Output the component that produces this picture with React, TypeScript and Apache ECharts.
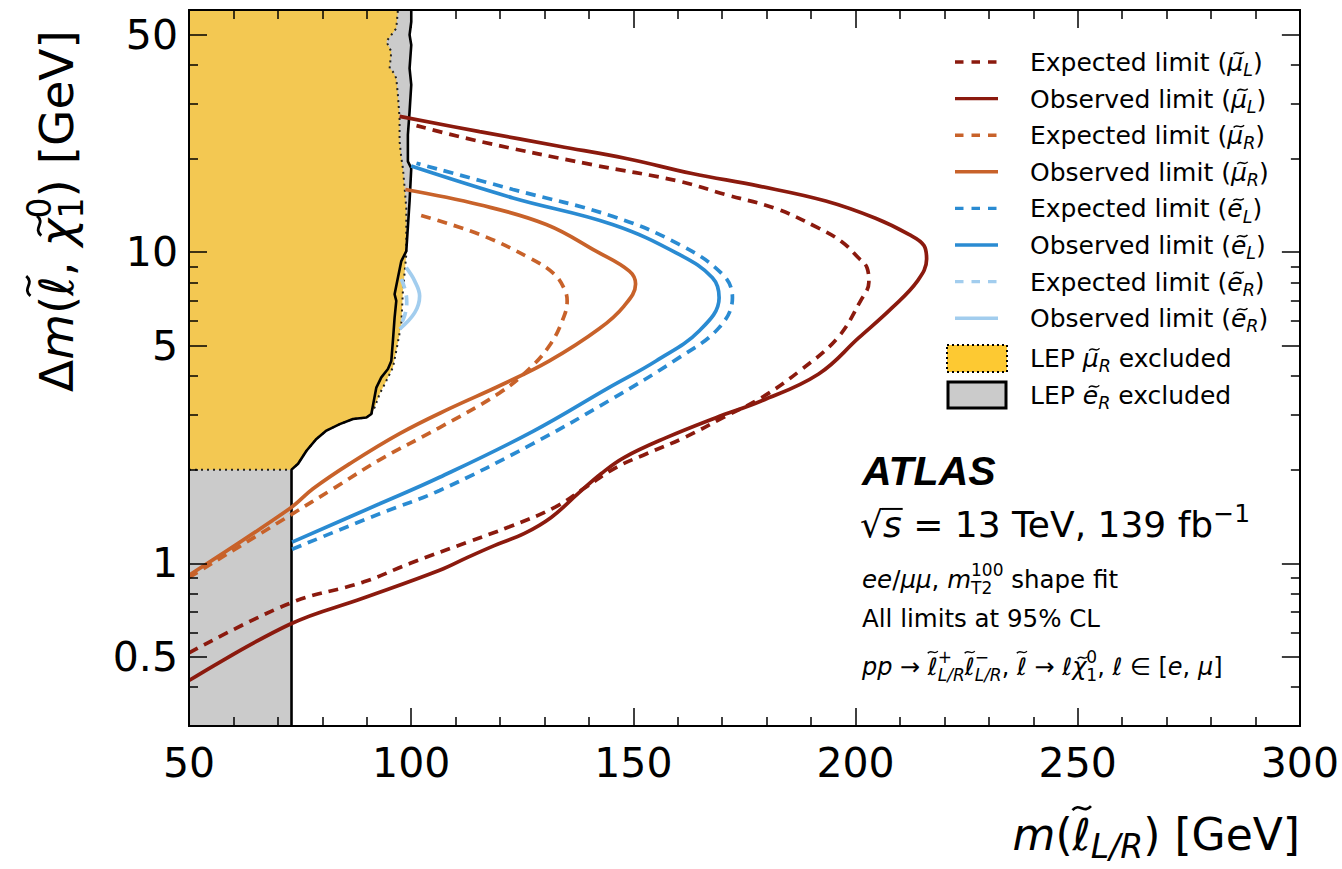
import React, { useEffect, useRef } from 'react';
import * as echarts from 'echarts';

const FONT = '"DejaVu Sans", "Liberation Sans", sans-serif';
const FONT_BRAND = '"Liberation Sans", Arial, Helvetica, sans-serif';

// Axis ranges and tick values
const xMin = 50;
const xMax = 300;
const xInterval = 50;
const yMin = 0.3;
const yMax = 60;
const yMajorTicks = [0.5, 1, 5, 10, 50];
const yMinorTicks = [0.4, 0.6, 0.7, 0.8, 0.9, 2, 3, 4, 6, 7, 8, 9, 20, 30, 40];

// Exclusion contours: [m(slepton) in GeV, Δm in GeV]
const expMuL = [[50, 0.515], [72.7, 0.744], [89.2, 0.87], [99.8, 1.0], [112.7, 1.17], [122.1, 1.31], [132.4, 1.515], [139.3, 1.757], [146.2, 2.035], [153.1, 2.253], [161.6, 2.54], [170.3, 2.944], [178.9, 3.41], [187.5, 4.16], [196.0, 5.31], [201.2, 7.0], [203.0, 8.0], [202.6, 8.9], [200.7, 9.57], [196.9, 10.8], [191.7, 11.94], [182.1, 13.8], [170.8, 15.3], [160.3, 16.9], [140.7, 19.1], [115.4, 22.7], [101.2, 25.5]];
const obsMuL = [[50, 0.42], [72.7, 0.637], [89.1, 0.772], [106.4, 0.95], [112.7, 1.045], [118.7, 1.14], [125.5, 1.248], [131.5, 1.404], [137.6, 1.677], [142.8, 1.943], [147.9, 2.187], [157.4, 2.534], [168.6, 2.938], [178.9, 3.33], [191.7, 4.06], [200.7, 5.3], [208.2, 6.62], [214.0, 8.1], [216.0, 9.5], [215.4, 10.5], [212.0, 11.4], [204.5, 12.85], [193.3, 14.6], [178.3, 16.3], [163.2, 17.9], [148.4, 20.0], [133.3, 21.9], [115.4, 24.4], [97.4, 27.3]];
const expMuR = [[50, 0.9], [72.7, 1.425], [82.4, 1.735], [92.9, 2.15], [106.4, 2.73], [119.9, 3.53], [126.6, 4.22], [131.1, 5.0], [134.0, 6.01], [135.1, 6.97], [134.5, 7.6], [132.2, 8.5], [126.6, 9.59], [115.4, 11.4], [100.8, 13.3]];
const obsMuR = [[50, 0.915], [72.7, 1.5], [77.9, 1.735], [86.2, 2.09], [97.4, 2.61], [108.6, 3.14], [119.9, 3.72], [131.1, 4.47], [142.3, 5.67], [147.9, 6.71], [150.5, 7.9], [149.1, 8.69], [141.6, 10.07], [130.4, 12.27], [115.4, 14.2], [98.7, 15.9]];
const expEL = [[73.2, 1.11], [92.9, 1.443], [106.4, 1.714], [127.3, 2.42], [144.5, 3.33], [160.3, 4.58], [169.3, 5.72], [172.3, 7.14], [170.1, 8.48], [160.3, 10.59], [145.3, 13.04], [122.9, 15.9], [101.2, 19.3]];
const obsEL = [[73.2, 1.17], [92.9, 1.553], [106.4, 1.89], [127.3, 2.65], [144.5, 3.67], [155.1, 4.47], [164.8, 5.58], [169.3, 7.14], [167.8, 8.27], [160.3, 9.83], [145.3, 12.27], [122.9, 14.93], [100.0, 18.9]];
const expER = [[97.8, 8.2], [98.7, 7.5], [99.0, 6.9], [98.6, 6.3], [97.8, 5.9]];
const obsER = [[98.9, 8.91], [100.8, 8.07], [101.9, 7.23], [100.8, 6.39], [97.4, 5.66]];

// LEP selectron (right-handed) exclusion edge, bottom to top
const lepERBoundary = [[73.07, 0.3], [73.07, 2.0], [74.55, 2.09], [76.44, 2.3], [78.68, 2.51], [80.93, 2.67], [83.92, 2.8], [86.91, 2.91], [89.92, 2.94], [91.04, 3.02], [92.16, 3.67], [93.28, 3.96], [94.77, 4.21], [95.53, 4.47], [95.89, 5.19], [96.27, 6.16], [96.65, 6.97], [96.27, 7.32], [97.01, 8.27], [97.78, 9.36], [98.9, 10.07], [99.64, 14.57], [100.02, 18.6], [99.26, 19.57], [99.26, 23.8], [99.64, 28.3], [100.02, 34.5], [99.64, 38.96], [100.02, 46.3], [99.64, 49.9], [100.02, 55.0], [100.02, 60]];
// LEP smuon (right-handed) exclusion edge above the shared lower part
const lepMuRBoundary = [[91.78, 3.17], [92.9, 3.5], [94.41, 3.86], [95.89, 4.26], [96.65, 4.82], [97.78, 5.87], [98.14, 7.5], [98.9, 9.83], [98.9, 11.4], [98.9, 13.87], [98.52, 16.1], [98.14, 18.6], [97.78, 20.1], [97.39, 22.7], [97.39, 26.9], [97.01, 32.0], [96.65, 36.2], [95.89, 38.0], [95.15, 38.96], [95.53, 44.1], [94.41, 47.5], [95.53, 49.9], [96.65, 52.4], [97.01, 60]];

const COL_MUL = '#8b1a0e';
const COL_MUR = '#c8622a';
const COL_EL = '#2a8bd2';
const COL_ER = '#a2cdee';
const COL_LEP_MU = '#f3c852';
const COL_LEP_MU_KEY = '#fdc932';
const COL_LEP_E = '#cbcbcb';

// tilde: height of the accent in em above the baseline
type Seg = { t: string; size?: number; it?: boolean; b?: boolean; dy?: number; tilde?: number; over?: boolean; stack?: boolean; fam?: string };

let measureCtx: CanvasRenderingContext2D | null = null;
function measure(t: string, size: number, it: boolean | undefined, b: boolean | undefined, fam: string) {
  if (!measureCtx) measureCtx = document.createElement('canvas').getContext('2d');
  measureCtx!.font = `${it ? 'italic ' : ''}${b ? 'bold ' : ''}${size}px ${fam}`;
  return measureCtx!.measureText(t).width;
}

function tildeShape(cx: number, cy: number, size: number, color: string) {
  const w = 0.42 * size;
  const a = 0.045 * size;
  return {
    type: 'bezierCurve',
    shape: { x1: cx - w / 2, y1: cy + a, x2: cx + w / 2, y2: cy - a, cpx1: cx - w * 0.12, cpy1: cy - 3.2 * a, cpx2: cx + w * 0.12, cpy2: cy + 3.2 * a },
    style: { stroke: color, lineWidth: Math.max(1.2, 0.06 * size), fill: null },
  };
}

// Lays out a run of text pieces on a common baseline (y = 0)
function mathRun(segs: Seg[], base: number, color = '#000') {
  let cx = 0;
  let stackW = 0;
  const els: any[] = [];
  for (const s of segs) {
    const size = s.size ?? base;
    const fam = s.fam ?? FONT;
    const w = measure(s.t, size, s.it, s.b, fam);
    const by = s.dy ?? 0;
    els.push({
      type: 'text', x: cx, y: by - 0.347 * size,
      style: { text: s.t, fontSize: size, fontFamily: fam, fontStyle: s.it ? 'italic' : 'normal', fontWeight: s.b ? 'bold' : 'normal', fill: color, align: 'left', verticalAlign: 'middle' },
    });
    if (s.tilde !== undefined) {
      const h = s.tilde * size;
      els.push(tildeShape(cx + w / 2 + (s.it ? 0.2 * h : 0), by - h, size, color));
    }
    if (s.over) {
      els.push({ type: 'line', shape: { x1: cx - 1, y1: by - 0.78 * size, x2: cx + w + 1, y2: by - 0.78 * size }, style: { stroke: color, lineWidth: Math.max(1.5, 0.055 * size) } });
    }
    if (s.stack) {
      stackW = Math.max(stackW, w);
    } else {
      cx += Math.max(w, stackW);
      stackW = 0;
    }
  }
  return { els, width: cx };
}

function placeRun(segs: Seg[], base: number, x: number, y: number, anchor: 'left' | 'right' = 'left', rotation = 0) {
  const r = mathRun(segs, base);
  const x0 = anchor === 'right' ? -r.width : 0;
  return {
    type: 'group', x, y, rotation,
    children: [{ type: 'group', x: x0, y: 0, children: r.els }],
  };
}

function keyLabel(prefix: string, particle: string, sub: string): Seg[] {
  return [
    { t: prefix + ' (' },
    { t: particle, it: true, tilde: 0.72 },
    { t: sub, it: true, size: 17.5, dy: 5 },
    { t: ')' },
  ];
}

export default function App() {
  const ref = useRef<HTMLDivElement>(null);

  useEffect(() => {
    if (!ref.current) return;
    const chart = echarts.init(ref.current, undefined, { renderer: 'svg' });

    const lineSeries = (data: number[][], color: string, dashed: boolean, z = 6) => ({
      type: 'line', data, showSymbol: false, smooth: 0.4, clip: true, silent: true, z,
      lineStyle: { color, width: 3.7, type: dashed ? [10, 7] : 'solid', cap: 'butt' },
    });

    const polygonSeries = (pts: number[][], fill: string, z: number) => ({
      type: 'custom', coordinateSystem: 'cartesian2d', data: [[75, 1]], clip: true, silent: true, z,
      renderItem: (_p: any, api: any) => ({
        type: 'polygon',
        shape: { points: pts.map((p) => api.coord(p)) },
        style: { fill, stroke: 'none' },
      }),
    });

    const grayPoly = [[50, yMin], ...lepERBoundary, [50, yMax]];
    const yellowEdge = [[50, 2.0], ...lepERBoundary.slice(1, 10), ...lepMuRBoundary];
    const yellowPoly = [...yellowEdge, [50, yMax]];

    const tickStyle = { color: '#000', width: 1.5 };
    const axisLine = { show: true, onZero: false, lineStyle: { color: '#000', width: 2 } };
    const labelStyle = { color: '#000', fontSize: 41, fontFamily: FONT };

    const xAxisBase = {
      type: 'value', min: xMin, max: xMax, interval: xInterval, z: 10,
      axisLine,
      axisTick: { show: true, inside: true, length: 18, lineStyle: tickStyle },
      minorTick: { show: true, splitNumber: 5, length: 9, lineStyle: tickStyle },
      splitLine: { show: false }, minorSplitLine: { show: false },
    };
    const yMajor = (position: string, labels: boolean) => ({
      type: 'log', logBase: 10, min: yMin, max: yMax, position, z: 10,
      axisLine,
      axisTick: { show: true, inside: true, length: 18, lineStyle: tickStyle, customValues: yMajorTicks },
      axisLabel: labels
        ? { show: true, customValues: yMajorTicks, formatter: (v: number) => String(v), margin: 11, ...labelStyle }
        : { show: false },
      splitLine: { show: false },
    });
    const yMinor = (position: string) => ({
      type: 'log', logBase: 10, min: yMin, max: yMax, position, z: 10,
      axisLine,
      axisTick: { show: true, inside: true, length: 9, lineStyle: tickStyle, customValues: yMinorTicks },
      axisLabel: { show: false },
      splitLine: { show: false },
    });

    // Legend block
    const rowY = [62, 98.6, 135.2, 171.8, 208.4, 245, 281.6, 318.2];
    const keys = [
      { c: COL_MUL, d: true, s: keyLabel('Expected limit', '\u03BC', 'L') },
      { c: COL_MUL, d: false, s: keyLabel('Observed limit', '\u03BC', 'L') },
      { c: COL_MUR, d: true, s: keyLabel('Expected limit', '\u03BC', 'R') },
      { c: COL_MUR, d: false, s: keyLabel('Observed limit', '\u03BC', 'R') },
      { c: COL_EL, d: true, s: keyLabel('Expected limit', 'e', 'L') },
      { c: COL_EL, d: false, s: keyLabel('Observed limit', 'e', 'L') },
      { c: COL_ER, d: true, s: keyLabel('Expected limit', 'e', 'R') },
      { c: COL_ER, d: false, s: keyLabel('Observed limit', 'e', 'R') },
    ];
    const legendEls: any[] = [];
    keys.forEach((k, i) => {
      legendEls.push({
        type: 'line', shape: { x1: 955, y1: rowY[i], x2: 998, y2: rowY[i] },
        style: { stroke: k.c, lineWidth: 3.4, lineDash: k.d ? [8.5, 8] : null },
      });
      legendEls.push(placeRun(k.s, 25, 1030, rowY[i] + 9.2));
    });
    legendEls.push({
      type: 'rect', shape: { x: 947, y: 345, width: 60, height: 27 },
      style: { fill: COL_LEP_MU_KEY, stroke: '#000', lineWidth: 2, lineDash: [2, 3] },
    });
    legendEls.push(placeRun([{ t: 'LEP ' }, { t: '\u03BC', it: true, tilde: 0.72 }, { t: 'R', it: true, size: 17.5, dy: 5 }, { t: ' excluded' }], 25, 1030, 367.5));
    legendEls.push({
      type: 'rect', shape: { x: 948, y: 382, width: 58, height: 26 },
      style: { fill: COL_LEP_E, stroke: '#000', lineWidth: 3 },
    });
    legendEls.push(placeRun([{ t: 'LEP ' }, { t: 'e', it: true, tilde: 0.72 }, { t: 'R', it: true, size: 17.5, dy: 5 }, { t: ' excluded' }], 25, 1030, 404.5));

    // Annotation block
    const notes: any[] = [
      placeRun([{ t: 'ATLAS', b: true, it: true, fam: FONT_BRAND }], 41, 862, 485),
      placeRun([{ t: '\u221A' }, { t: 's', it: true, over: true }, { t: ' = 13 TeV, 139 fb' }, { t: '\u22121', size: 25, dy: -15 }], 36, 860, 537),
      placeRun([{ t: 'ee', it: true }, { t: '/' }, { t: '\u03BC\u03BC', it: true }, { t: ', ' }, { t: 'm', it: true }, { t: '100', size: 17, dy: -12, stack: true }, { t: 'T2', size: 17, dy: 6 }, { t: ' shape fit' }], 24.5, 862, 588),
      placeRun([{ t: 'All limits at 95% CL' }], 24.5, 862, 627),
      placeRun([
        { t: 'pp', it: true }, { t: ' \u2192 ' },
        { t: '\u2113', tilde: 0.95 }, { t: '+', size: 17, dy: -12, stack: true }, { t: 'L/R', size: 17, it: true, dy: 6 },
        { t: '\u2113', tilde: 0.95 }, { t: '\u2212', size: 17, dy: -12, stack: true }, { t: 'L/R', size: 17, it: true, dy: 6 },
        { t: ', ' }, { t: '\u2113', tilde: 0.95 }, { t: ' \u2192 ' }, { t: '\u2113' },
        { t: '\u03C7', it: true, tilde: 0.72 }, { t: '0', size: 17, dy: -12, stack: true }, { t: '1', size: 17, dy: 6 },
        { t: ', ' }, { t: '\u2113' }, { t: ' \u2208 [' }, { t: 'e', it: true }, { t: ', ' }, { t: '\u03BC', it: true }, { t: ']' },
      ], 24, 862, 675),
    ];

    // Axis titles
    const yTitle = placeRun([
      { t: '\u0394' }, { t: 'm', it: true }, { t: '(' }, { t: '\u2113', tilde: 0.95 }, { t: ', ' },
      { t: '\u03C7', it: true, tilde: 0.72 }, { t: '0', size: 33, dy: -22, stack: true }, { t: '1', size: 33, dy: 10 },
      { t: ') [GeV]' },
    ], 47, 73, 392, 'left', Math.PI / 2);
    const xTitle = placeRun([
      { t: 'm', it: true }, { t: '(' }, { t: '\u2113', tilde: 0.95 }, { t: 'L/R', size: 33, it: true, dy: 8 }, { t: ') [GeV]' },
    ], 44, 1300, 850, 'right');

    chart.setOption({
      animation: false,
      backgroundColor: '#ffffff',
      grid: { left: 189, right: 39, top: 10, bottom: 143, containLabel: false },
      xAxis: [
        { ...xAxisBase, position: 'bottom', axisLabel: { show: true, margin: 16, ...labelStyle } },
        { ...xAxisBase, position: 'top', axisLabel: { show: false } },
      ],
      yAxis: [yMajor('left', true), yMinor('left'), yMajor('right', false), yMinor('right')],
      series: [
        polygonSeries(grayPoly, COL_LEP_E, 1),
        polygonSeries(yellowPoly, COL_LEP_MU, 2),
        { type: 'line', data: yellowEdge, showSymbol: false, clip: true, silent: true, z: 3, lineStyle: { color: '#222', width: 2, type: [2, 4] } },
        { type: 'line', data: lepERBoundary, showSymbol: false, clip: true, silent: true, z: 4, lineStyle: { color: '#000', width: 2.6 } },
        lineSeries(expER, COL_ER, true),
        lineSeries(obsER, COL_ER, false),
        lineSeries(expMuR, COL_MUR, true),
        lineSeries(obsMuR, COL_MUR, false),
        lineSeries(expEL, COL_EL, true),
        lineSeries(obsEL, COL_EL, false),
        lineSeries(expMuL, COL_MUL, true),
        lineSeries(obsMuL, COL_MUL, false),
      ],
      graphic: { elements: [...legendEls, ...notes, yTitle, xTitle] },
    });

    return () => chart.dispose();
  }, []);

  return <div ref={ref} style={{ position: 'absolute', left: 0, top: 0, width: 1342, height: 869, background: '#fff' }} />;
}
